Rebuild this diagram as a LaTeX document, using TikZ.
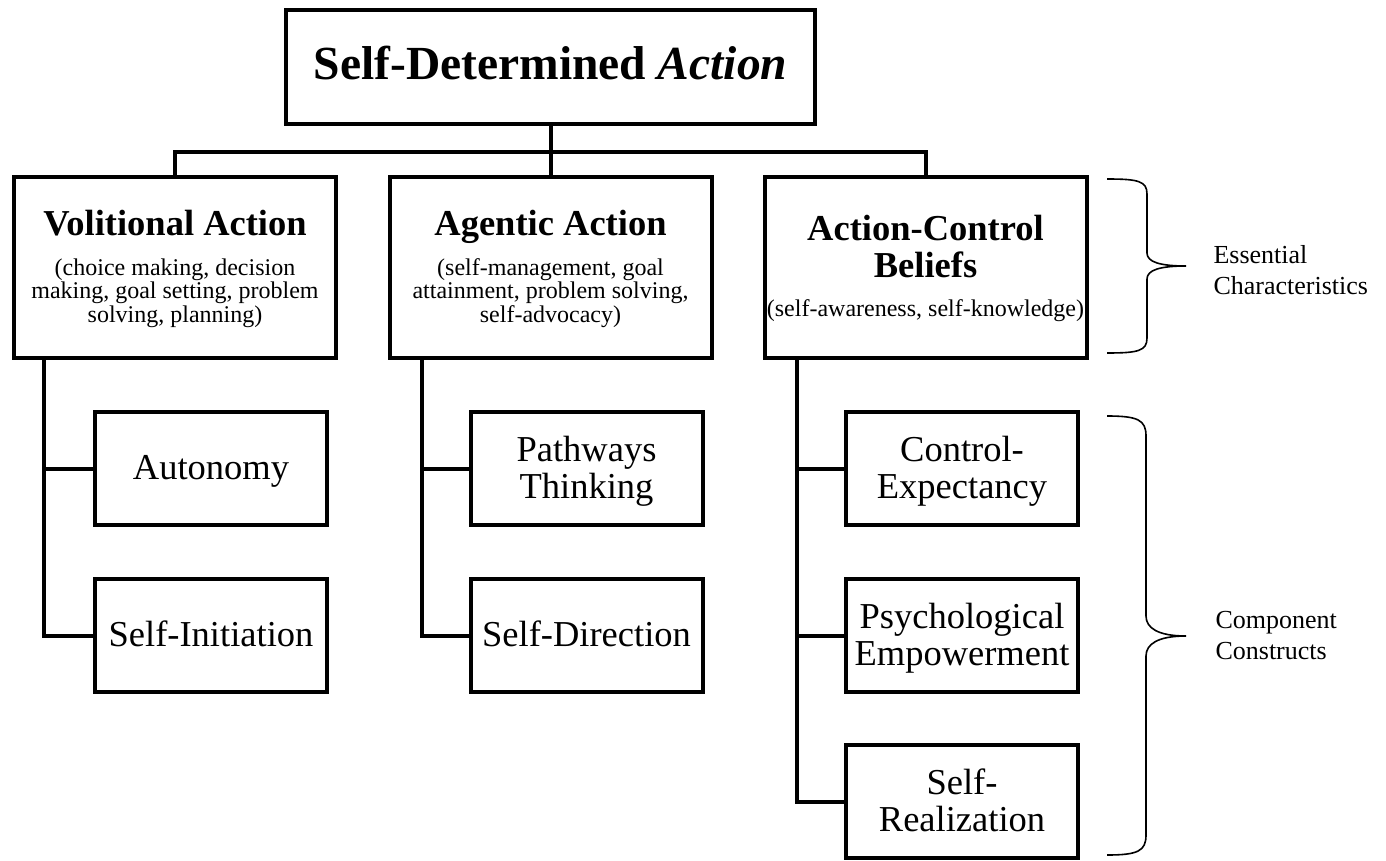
\documentclass[tikz,border=0pt]{standalone}
\usepackage{fontspec}
\setmainfont{Liberation Serif}
\begin{document}
\begin{tikzpicture}[x=1pt,y=-1pt,
  box/.style={draw, line width=4pt, rectangle, inner sep=0pt, outer sep=0pt},
  topbox/.style={box, minimum width=322pt, minimum height=181pt},
  leafbox/.style={box, minimum width=232pt, minimum height=113pt},
  conn/.style={line width=4pt, line join=miter},
  bracepath/.style={line width=1.6pt},
  titlefont/.style={font=\fontsize{47.5}{50}\selectfont\bfseries},
  headfont/.style={font=\fontsize{36.5}{37}\selectfont\bfseries, align=center},
  smallfont/.style={font=\fontsize{24}{23.5}\selectfont, align=center},
  leaffont/.style={font=\fontsize{36.5}{37}\selectfont, align=center},
  bracefont/.style={font=\fontsize{26}{31}\selectfont, align=left}]
\useasboundingbox (0,0) rectangle (1386,861);
\fill[white] (0,0) rectangle (1386,861);

% boxes
\node[box, minimum width=529pt, minimum height=114pt] (title) at (550.5,67) {};
\node[topbox] (vol) at (175,267.5) {};
\node[topbox] (ag)  at (550.5,267.5) {};
\node[topbox] (acb) at (925.5,267.5) {};
\node[leafbox] (auto) at (211,468.5) {};
\node[leafbox] (si)   at (211,635.5) {};
\node[leafbox] (pt)   at (586.5,468.5) {};
\node[leafbox] (sd)   at (586.5,635.5) {};
\node[leafbox] (ce)   at (962,468.5) {};
\node[leafbox] (pe)   at (962,635.5) {};
\node[leafbox] (sr)   at (962,801.5) {};

% texts
\node[titlefont, anchor=base] (ttitle) at (550.5,80) {Self-Determined \textit{Action}};
\node[headfont, anchor=base] (tvolh) at (175,235) {Volitional Action};
\node[smallfont, anchor=base] (tvols) at (175,322) {(choice making, decision\\making, goal setting, problem\\solving, planning)};
\node[headfont, anchor=base] (tagh) at (550.5,235) {Agentic Action};
\node[smallfont, anchor=base] (tags) at (550.5,322) {(self-management, goal\\attainment, problem solving,\\self-advocacy)};
\node[headfont, anchor=base] (tacbh) at (925.5,277) {Action-Control\\Beliefs};
\node[smallfont, anchor=base] (tacbs) at (925.5,316) {(self-awareness, self-knowledge)};
\node[leaffont, anchor=base] (tauto) at (211,479.5) {Autonomy};
\node[leaffont, anchor=base] (tsi) at (211,646.5) {Self-Initiation};
\node[leaffont, anchor=base] (tpt) at (586.5,498) {Pathways\\Thinking};
\node[leaffont, anchor=base] (tsd) at (586.5,646.5) {Self-Direction};
\node[leaffont, anchor=base] (tce) at (962,498) {Control-\\Expectancy};
\node[leaffont, anchor=base] (tpe) at (962,665) {Psychological\\Empowerment};
\node[leaffont, anchor=base] (tsr) at (962,831) {Self-\\Realization};

% top connectors
\coordinate (bar) at (550.5,152);
\draw[conn] (title.south) -- (ag.north);
\draw[conn] (vol.north) |- (bar) -| (acb.north);

% trunks and branches
\coordinate (vt) at ([xshift=30pt]vol.south west);
\coordinate (at) at ([xshift=32.5pt]ag.south west);
\coordinate (ct) at ([xshift=32.5pt]acb.south west);
\draw[conn] (vt) |- (si.west);
\draw[conn] (auto.west) -- (auto.west -| vt);
\draw[conn] (at) |- (sd.west);
\draw[conn] (pt.west) -- (pt.west -| at);
\draw[conn] (ct) |- (sr.west);
\draw[conn] (ce.west) -- (ce.west -| ct);
\draw[conn] (pe.west) -- (pe.west -| ct);

% braces
\draw[bracepath] (1107,179) .. controls (1138,179) and (1147,181) .. (1147,194)
  -- (1147,253) .. controls (1147,262) and (1160,266) .. (1186,266)
  .. controls (1160,266) and (1147,270) .. (1147,279)
  -- (1147,338) .. controls (1147,351) and (1138,353) .. (1107,353);
\draw[bracepath] (1107,416) .. controls (1138,416) and (1146,420) .. (1146,436)
  -- (1146,616) .. controls (1146,628) and (1158,636) .. (1186,636)
  .. controls (1158,636) and (1146,644) .. (1146,656)
  -- (1146,835) .. controls (1146,851) and (1138,855) .. (1107,855);
\node[bracefont, anchor=base west] (tess) at (1210,294) {Essential\\Characteristics};
\node[bracefont, anchor=base west] (tcomp) at (1212,659) {Component\\Constructs};
\end{tikzpicture}
\end{document}
